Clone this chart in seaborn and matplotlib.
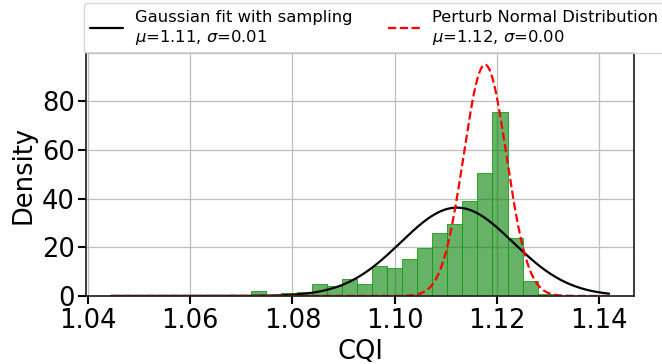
import numpy as np
import pandas as pd
import matplotlib
matplotlib.use("Agg")
import matplotlib.pyplot as plt
import seaborn as sns

# histogram (density per bin), bins of width ~0.00295 starting at 1.0454
bin_start = 1.0454
bin_width = 0.00295
density = [0.0, 0.0, 0.3, 0.0, 0.3, 0.4, 0.3, 0.3, 0.5,
           1.85, 0.0, 1.3, 1.7, 4.7, 3.9, 7.1, 5.0, 12.1, 11.6, 15.3,
           19.7, 25.9, 29.6, 38.9, 50.5, 75.6, 23.7, 6.1, 0.9]

# fitted gaussians
fit_mu, fit_sigma = 1.1122, 0.0110
pert_mu, pert_sigma = 1.1177, 0.0042
x_min, x_max = 1.0445, 1.142

labels = ["Gaussian fit with sampling\n$\\mu$=1.11, $\\sigma$=0.01",
          "Perturb Normal Distribution\n$\\mu$=1.12, $\\sigma$=0.00"]

sns.set_theme(style="ticks")
plt.rcParams["font.family"] = ["DejaVu Sans"]
plt.rcParams["text.color"] = "black"
plt.rcParams["axes.labelcolor"] = "black"
plt.rcParams["xtick.color"] = "black"
plt.rcParams["ytick.color"] = "black"

edges = bin_start + bin_width * np.arange(len(density) + 1)
centers = (edges[:-1] + edges[1:]) / 2
hist_df = pd.DataFrame({"CQI": centers, "h": density})

xs = np.linspace(x_min, x_max, 300)
def pdf(x, mu, s):
    return np.exp(-0.5 * ((x - mu) / s) ** 2) / (s * np.sqrt(2 * np.pi))

fig = plt.figure(figsize=(6.62, 3.64), dpi=100)
ax = fig.add_axes([0.130, 0.187, 0.828, 0.667])

sns.histplot(data=hist_df, x="CQI", weights="h", bins=list(edges), stat="count",
             color="#008000", alpha=0.6, edgecolor="#1a9a1a", linewidth=0.6, ax=ax)
sns.lineplot(x=xs, y=pdf(xs, fit_mu, fit_sigma), color="black", lw=1.6,
             label=labels[0], ax=ax)
sns.lineplot(x=xs, y=pdf(xs, pert_mu, pert_sigma), color="red", lw=1.6,
             linestyle="--", label=labels[1], ax=ax)

ax.set_xlim(1.0396, 1.1469)
ax.set_ylim(0, 99.7)
ax.set_xticks([1.04, 1.06, 1.08, 1.10, 1.12, 1.14])
ax.set_yticks([0, 20, 40, 60, 80])
ax.grid(True, color="#bebebe", lw=0.9)
ax.set_axisbelow(True)
ax.tick_params(labelsize=18.5, length=6, width=1.5, color="black", pad=2)
ax.tick_params(axis="x", pad=3)
ax.set_xlabel("CQI", fontsize=18.5, labelpad=3)
ax.set_ylabel("Density", fontsize=18.5, labelpad=4)
for s in ax.spines.values():
    s.set_color("#222222")

ax.legend(loc="lower left", bbox_to_anchor=(-0.004, 1.0), ncol=2, fontsize=11.8,
          frameon=True, borderaxespad=0.0, handlelength=2.0, handletextpad=0.7,
          columnspacing=2.2, fancybox=True)

fig.savefig("out.png", dpi=100)
